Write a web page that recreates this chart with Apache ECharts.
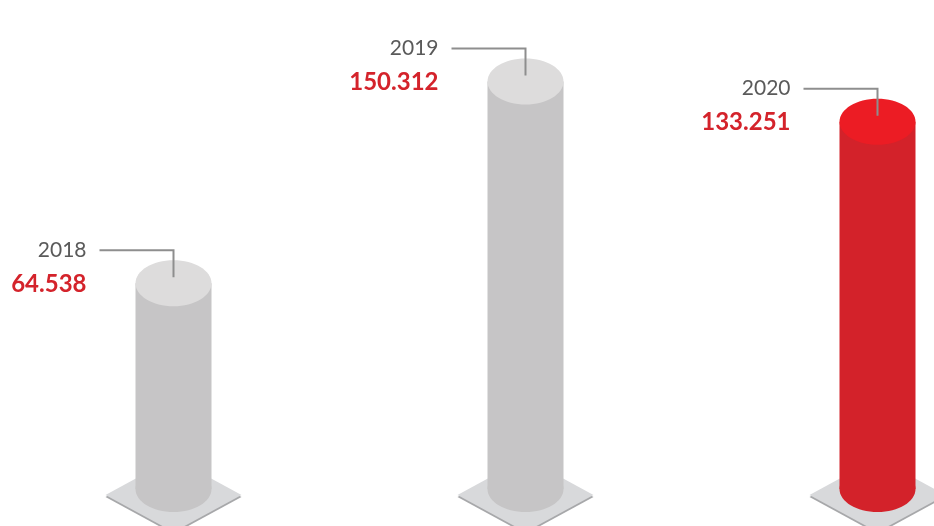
<!DOCTYPE html>
<html><head><meta charset="utf-8">
<script src="https://cdn.jsdelivr.net/npm/echarts@6/dist/echarts.min.js"></script>
<style>html,body{margin:0;padding:0;background:#fff}#c{width:934px;height:526px}</style>
</head><body><div id="c"></div>
<script>
const categories = ['2018', '2019', '2020'];
const values = [64.538, 150.312, 133.251];
const valueLabels = ['64.538', '150.312', '133.251'];
const highlighted = [false, false, true];

const AXIS_MIN = -23;
const AXIS_MAX = 185;
const X_MIN = -0.4929;
const X_MAX = 2.1605;

const chart = echarts.init(document.getElementById('c'), null, {renderer: 'canvas'});
const RX = 38, RY = 23;

function renderItem(params, api) {
  const i = api.value(0);
  const v = api.value(1);
  const top = api.coord([i, v]);
  const base = api.coord([i, AXIS_MIN]);
  const cx = top[0], cy = top[1], by = base[1];
  const hi = highlighted[params.dataIndex];
  const body = hi ? '#d3222a' : '#c6c5c6';
  const cap = hi ? '#ec1c24' : '#dddcdc';
  const PW = 68, PH = 37;
  const py = by + 6;
  return {
    type: 'group',
    children: [
      {type: 'polygon', shape: {points: [[cx - PW, py + 2], [cx, py - PH + 2], [cx + PW, py + 2], [cx, py + PH + 2]]}, style: {fill: '#a7a8aa'}},
      {type: 'polygon', shape: {points: [[cx - PW, py], [cx, py - PH], [cx + PW, py], [cx, py + PH]]}, style: {fill: '#d8d9db'}},
      {type: 'ellipse', shape: {cx: cx, cy: by, rx: RX, ry: RY}, style: {fill: body}},
      {type: 'rect', shape: {x: cx - RX, y: cy, width: 2 * RX, height: by - cy}, style: {fill: body}},
      {type: 'ellipse', shape: {cx: cx, cy: cy, rx: RX, ry: RY}, style: {fill: cap}},
      {type: 'polyline', shape: {points: [[cx - 74, cy - 33], [cx, cy - 33], [cx, cy - 6]]}, style: {stroke: '#8e8e8e', lineWidth: 2, fill: null}},
      {type: 'text', x: cx - 87, y: cy - 33, style: {text: categories[i], fill: '#5a5a5a', fontSize: 21, fontFamily: 'Lato', align: 'right', verticalAlign: 'middle'}},
      {type: 'text', x: cx - 87, y: cy + 1, style: {text: valueLabels[i], fill: '#d4232b', fontSize: 24, fontWeight: 'bold', fontFamily: 'Lato', align: 'right', verticalAlign: 'middle'}}
    ]
  };
}

chart.setOption({
  animation: false,
  grid: {left: 0, right: 0, top: 0, bottom: 37},
  xAxis: {type: 'value', min: X_MIN, max: X_MAX, show: false},
  yAxis: {type: 'value', min: AXIS_MIN, max: AXIS_MAX, show: false},
  series: [{
    type: 'custom',
    renderItem: renderItem,
    clip: false,
    data: values.map((v, i) => [i, v])
  }]
});
</script>
</body></html>
